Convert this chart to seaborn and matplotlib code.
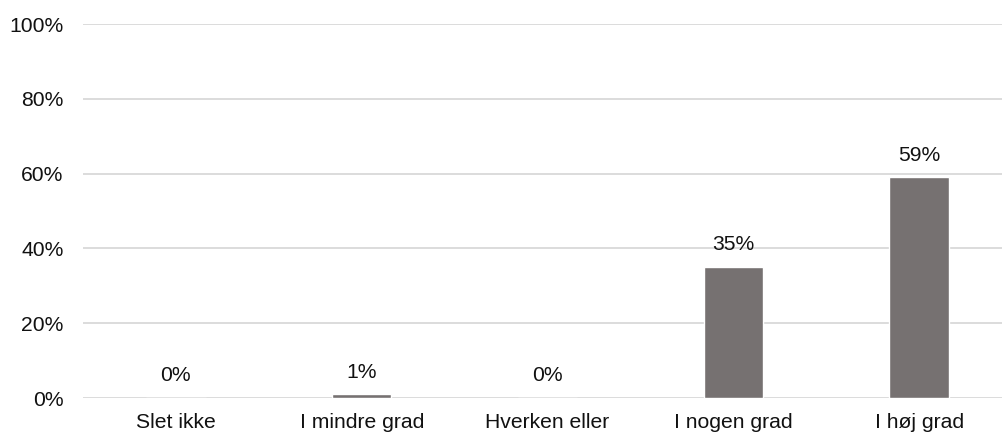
import matplotlib
matplotlib.use("Agg")
import matplotlib.pyplot as plt
import seaborn as sns
import pandas as pd

categories = ["Slet ikke", "I mindre grad", "Hverken eller", "I nogen grad", "I høj grad"]
values = [0, 1, 0, 35, 59]
y_ticks = [0, 20, 40, 60, 80, 100]

df = pd.DataFrame({"kategori": categories, "andel": values})

sns.set_theme(style="white")
plt.rcParams["font.family"] = ["Liberation Sans", "DejaVu Sans"]

fig = plt.figure(figsize=(10.02, 4.32), dpi=100)
ax = fig.add_axes([83 / 1002, 34 / 432, 929 / 1002, 374 / 432])

sns.barplot(data=df, x="kategori", y="andel", color="#767171", saturation=1,
            width=0.32, ax=ax)

ax.set_ylim(0, 100)
ax.set_xlim(-0.5, len(categories) - 0.5)
ax.set_yticks(y_ticks)
ax.set_yticklabels([f"{t}%" for t in y_ticks])
ax.set_xlabel("")
ax.set_ylabel("")

fs = 15.2
txt = "#111111"
for s in ax.spines.values():
    s.set_visible(False)
ax.grid(axis="y", color="#d9d9d9", linewidth=1.3)
ax.set_axisbelow(True)
ax.tick_params(axis="y", length=0, pad=14, labelsize=fs, labelcolor=txt)
ax.tick_params(axis="x", length=0, pad=11, labelsize=fs, labelcolor=txt)

for i, v in enumerate(values):
    ax.annotate(f"{v}%", xy=(i, v), xytext=(0, 16), textcoords="offset points",
                ha="center", va="center", fontsize=fs, color=txt)

fig.savefig("out.png", dpi=100)
